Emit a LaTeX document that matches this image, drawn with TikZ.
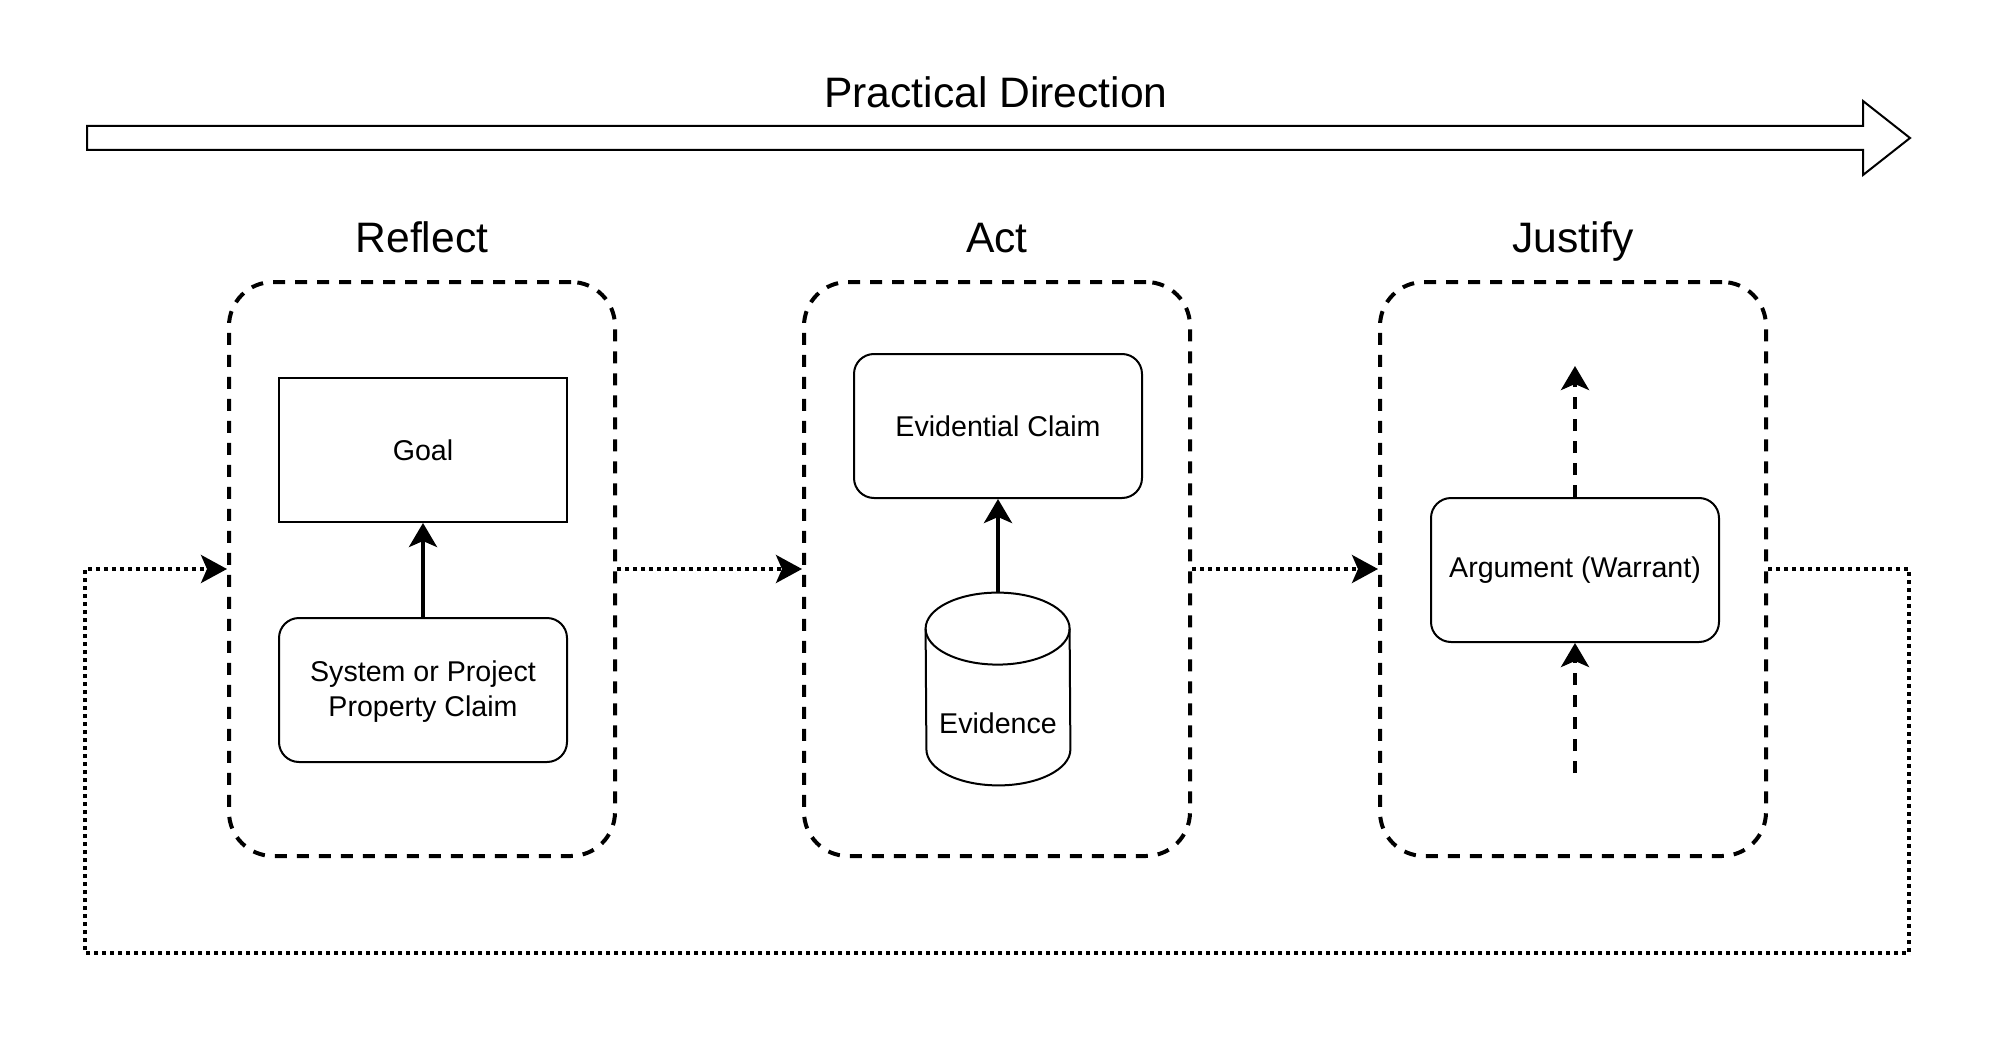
\documentclass[tikz,border=0pt]{standalone}
\usepackage{fontspec}
\setmainfont{Liberation Sans}
\usetikzlibrary{arrows.meta}
\newcommand{\titlefont}{\fontsize{21.3}{25}\selectfont}
\newcommand{\boxfont}{\fontsize{14.3}{17.6}\selectfont}
\tikzset{
  title/.style={font=\titlefont, anchor=base, inner sep=0pt},
  phase/.style={draw, line width=2pt, dash pattern=on 6pt off 5pt, rounded corners=22pt,
    minimum width=193pt, minimum height=287pt},
  claim/.style={draw, fill=white, line width=1pt, rounded corners=10pt, minimum width=144pt,
    minimum height=72pt, align=center, font=\boxfont},
  goalbox/.style={claim, sharp corners},
  solidarrow/.style={line width=2pt, -{Stealth[length=12pt,width=14pt,inset=3pt]}},
  dasharrow/.style={solidarrow, dash pattern=on 6pt off 5pt},
  dotarrow/.style={line width=1.8pt, dash pattern=on 2pt off 2pt, -{Stealth[length=13pt,width=14pt,inset=3pt]}}
}
\begin{document}
\begin{tikzpicture}[x=0.5pt,y=-0.5pt]
    \useasboundingbox (0,0) rectangle (1998,1038);
    % direction arrow
    \node[title] (direction) at (996,108) {Practical Direction};
    \draw[line width=1pt] (87,126) -- (1863,126) -- (1863,101) -- (1910,138) -- (1863,175) -- (1863,150) -- (87,150) -- cycle;

    \node[title] (reflecttitle) at (422,252) {Reflect};
    \node[title] (acttitle) at (997,252) {Act};
    \node[title] (justifytitle) at (1573,252) {Justify};

    \node[phase] (reflect) at (422,569) {};
    \node[phase] (act) at (997,569) {};
    \node[phase] (justify) at (1573,569) {};

    % reflect
    \node[goalbox] (goal) at (423,450) {Goal};
    \node[claim] (property) at (423,690) {\strut System or Project\\Property Claim};
    \draw[solidarrow] (property) -- (goal);

    % act
    \node[claim] (evclaim) at (998,426) {Evidential Claim};
    \node[minimum width=72pt, minimum height=96pt, inner sep=0pt] (evidence) at (998,689) {};
    \draw[line width=1pt, fill=white] ([yshift=-18pt]evidence.north west)
      arc[start angle=180, end angle=0, x radius=36pt, y radius=18pt]
      -- ([yshift=18pt]evidence.south east)
      arc[start angle=0, end angle=-180, x radius=36pt, y radius=18pt] -- cycle;
    \draw[line width=1pt] ([yshift=-18pt]evidence.north west)
      arc[start angle=180, end angle=360, x radius=36pt, y radius=18pt];
    \node[font=\boxfont] (evidencetext) at (998,723) {Evidence};
    \draw[solidarrow] (evidence) -- (evclaim);

    % justify
    \node[claim] (argument) at (1575,570) {Argument (Warrant)};
    \coordinate (argtop) at (1575,366);
    \coordinate (argbottom) at (1575,773);
    \draw[dasharrow] (argument) -- (argtop);
    \draw[dasharrow] (argbottom) -- (argument);

    % loop
    \coordinate (loopright) at (1909,953);
    \coordinate (loopleft) at (85,953);
    \draw[dotarrow] (reflect.east) -- (act.west);
    \draw[dotarrow] (act.east) -- (justify.west);
    \draw[dotarrow] (justify.east) -| (loopright) -- (loopleft) |- (reflect.west);
\end{tikzpicture}
\end{document}
